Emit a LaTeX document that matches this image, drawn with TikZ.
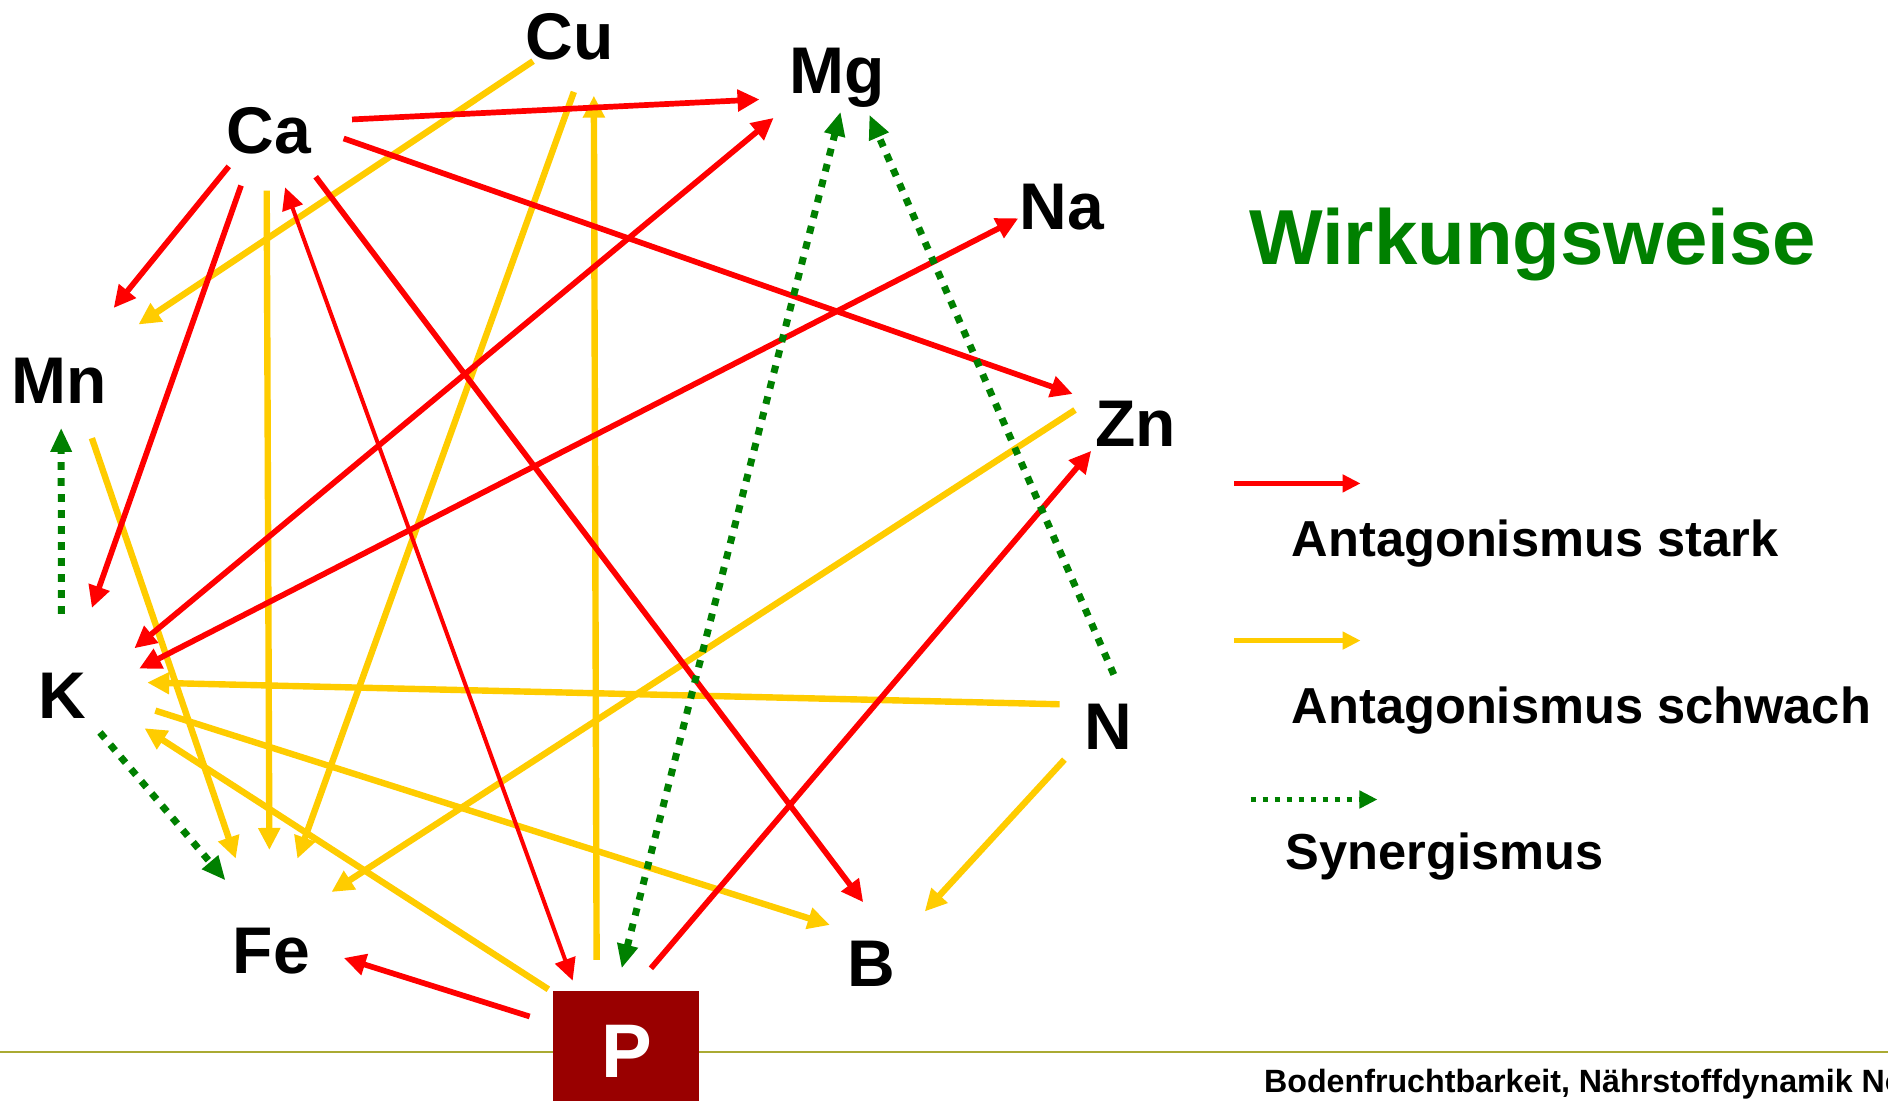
\documentclass[tikz,border=0pt]{standalone}
\usepackage{fontspec}
\setmainfont{Liberation Sans}
\usetikzlibrary{arrows.meta}
\definecolor{sred}{RGB}{255,0,0}
\definecolor{syel}{RGB}{255,204,0}
\definecolor{sgrn}{RGB}{0,128,0}
\definecolor{pred}{RGB}{153,0,0}
\definecolor{lineolive}{RGB}{170,170,51}
\tikzset{
  tipA/.tip={Triangle[length=11pt,width=10.5pt]},
  tipG/.tip={Triangle[length=12pt,width=10pt]},
  tipL/.tip={Triangle[length=9pt,width=8.5pt]},
  elem/.style={font=\fontsize{33}{36}\selectfont\bfseries, inner sep=0pt, anchor=base},
  legtext/.style={font=\fontsize{25.3}{28}\selectfont\bfseries, inner sep=0pt, anchor=base west},
  strong/.style={draw=sred, line width=2.85pt, line cap=butt},
  thinred/.style={draw=sred, line width=2pt, line cap=butt},
  weak/.style={draw=syel, line width=3.2pt, line cap=butt},
  syn/.style={draw=sgrn, line width=3.5pt, line cap=butt, dash pattern=on 3.8pt off 4.2pt},
}
\begin{document}
\begin{tikzpicture}[x=0.60204pt,y=-0.60204pt]
\useasboundingbox (0,0) rectangle (1568,913.6);
\fill[white] (0,0) rectangle (1568,913.6);

% footer line
\coordinate (lineL) at (0,874);
\coordinate (lineR) at (1568,874);
\draw[lineolive, line width=0.9pt] (lineL) -- (lineR);

% element labels
\node[elem] (Cu) at (473.3,49.3) {Cu};
\node[elem] (Mg) at (695,77.9) {Mg};
\node[elem] (Ca) at (223.3,127.1) {Ca};
\node[elem] (Na) at (881.7,190.5) {Na};
\node[elem] (Mn) at (49,335.3) {Mn};
\node[elem] (Zn) at (943.3,371) {Zn};
\node[elem] (K) at (51.5,596.6) {K};
\node[elem] (N) at (920.3,622.2) {N};
\node[elem] (Fe) at (225.3,808.4) {Fe};
\node[elem] (B) at (723.5,819.4) {B};

% P box
\node[fill=pred, minimum width=72.85pt, minimum height=56pt, inner sep=0pt, anchor=north west] (Pbox) at (459,823) {};
\node[font=\fontsize{38}{40}\selectfont\bfseries, text=white, inner sep=0pt, anchor=base] (P) at (520.5,895) {P};

% connector end points
\coordinate (caMgS) at (292.4,99.2);   \coordinate (caMgT) at (630.8,82.6);
\coordinate (caMnS) at (190,138.2);    \coordinate (caMnT) at (94.4,255.8);
\coordinate (caKS) at (200.2,154.1);   \coordinate (caKT) at (76.3,504.9);
\coordinate (caZnS) at (285.4,115);    \coordinate (caZnT) at (890.9,327.2);
\coordinate (caBS) at (262.2,146.8);   \coordinate (caBT) at (716.9,749.3);
\coordinate (pCaA) at (475.6,814.4);   \coordinate (pCaB) at (236.8,155.7);
\coordinate (kMgA) at (111.6,538.4);   \coordinate (kMgB) at (642.5,97.9);
\coordinate (kNaA) at (115.6,555.3);   \coordinate (kNaB) at (845.7,181.3);
\coordinate (pZnS) at (540.6,804.2);   \coordinate (pZnT) at (906.3,374.4);
\coordinate (pFeS) at (439.9,844.2);   \coordinate (pFeT) at (285.5,795.6);

\coordinate (cuMnS) at (442.7,50.8);   \coordinate (cuMnT) at (115,269.5);
\coordinate (caFeS) at (221.5,158.3);  \coordinate (caFeT) at (223.7,705.9);
\coordinate (cuFeS) at (476.6,76.3);   \coordinate (cuFeT) at (247,713.1);
\coordinate (pCuS) at (495.5,797.2);   \coordinate (pCuT) at (493.2,79.5);
\coordinate (mnFeS) at (76.3,363.9);   \coordinate (mnFeT) at (195.8,713.1);
\coordinate (znFeS) at (892.8,340.5);  \coordinate (znFeT) at (275.3,740.8);
\coordinate (nKS) at (880,584.9);      \coordinate (nKT) at (122.3,566.9);
\coordinate (pKS) at (455.4,821.6);    \coordinate (pKT) at (120,604.8);
\coordinate (kBS) at (129,590.2);      \coordinate (kBT) at (689.2,768.2);
\coordinate (nBS) at (884,630.9);      \coordinate (nBT) at (768,757);

\coordinate (kMnS) at (51,509.8);      \coordinate (kMnT) at (50.8,355.3);
\coordinate (kFeS) at (83,608.3);      \coordinate (kFeT) at (187.3,731.2);
\coordinate (pMgA) at (516.3,804.2);   \coordinate (pMgB) at (698.1,92.8);
\coordinate (nMgS) at (925,560.2);     \coordinate (nMgT) at (722,95.3);

% weak antagonism (yellow)
\draw[weak, -tipA] (cuMnS) -- (cuMnT);
\draw[weak, -tipA] (caFeS) -- (caFeT);
\draw[weak, -tipA] (cuFeS) -- (cuFeT);
\draw[weak, -tipA] (pCuS) -- (pCuT);
\draw[weak, -tipA] (mnFeS) -- (mnFeT);
\draw[weak, -tipA] (znFeS) -- (znFeT);
\draw[weak, -tipA] (nKS) -- (nKT);
\draw[weak, -tipA] (pKS) -- (pKT);
\draw[weak, -tipA] (kBS) -- (kBT);
\draw[weak, -tipA] (nBS) -- (nBT);

% strong antagonism (red)
\draw[strong, -tipA] (caMgS) -- (caMgT);
\draw[strong, -tipA] (caMnS) -- (caMnT);
\draw[strong, -tipA] (caKS) -- (caKT);
\draw[strong, -tipA] (caZnS) -- (caZnT);
\draw[strong, -tipA] (caBS) -- (caBT);
\draw[thinred, tipA-tipA] (pCaA) -- (pCaB);
\draw[strong, tipA-tipA] (kMgA) -- (kMgB);
\draw[strong, tipA-tipA] (kNaA) -- (kNaB);
\draw[strong, -tipA] (pZnS) -- (pZnT);
\draw[strong, -tipA] (pFeS) -- (pFeT);

% synergism (green dotted)
\draw[syn, -tipG] (kMnS) -- (kMnT);
\draw[syn, -tipG] (kFeS) -- (kFeT);
\draw[syn, tipG-tipG] (pMgA) -- (pMgB);
\draw[syn, -tipG] (nMgS) -- (nMgT);

% title
\node[font=\fontsize{39}{42}\selectfont\bfseries, text=sgrn, inner sep=0pt, anchor=base west] (title) at (1037,219.8) {Wirkungsweise};

% legend
\coordinate (lrS) at (1025,401.5);  \coordinate (lrT) at (1130,401.5);
\coordinate (lyS) at (1025,532);    \coordinate (lyT) at (1130,532);
\coordinate (lgS) at (1038.6,664);  \coordinate (lgT) at (1144,664);
\draw[draw=sred, line width=2.2pt, -tipL] (lrS) -- (lrT);
\draw[draw=syel, line width=2.7pt, -tipL] (lyS) -- (lyT);
\draw[draw=sgrn, line width=2.7pt, dash pattern=on 2.7pt off 3.3pt, -tipL] (lgS) -- (lgT);
\node[legtext] (legStark) at (1072.5,461.8) {Antagonismus stark};
\node[legtext] (legSchwach) at (1072.5,601) {Antagonismus schwach};
\node[legtext] (legSyn) at (1067.5,721.8) {Synergismus};

% footer
\node[font=\fontsize{16.1}{18}\selectfont\bfseries, inner sep=0pt, anchor=base west] (footer) at (1049.5,907) {Bodenfruchtbarkeit, Nährstoffdynamik No};
\end{tikzpicture}
\end{document}
